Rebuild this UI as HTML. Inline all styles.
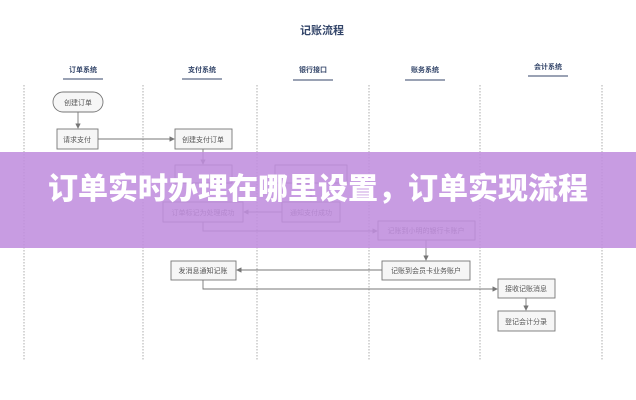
<!DOCTYPE html>
<html><head><meta charset="utf-8"><style>
html,body{margin:0;padding:0;background:#fff;width:636px;height:400px;overflow:hidden}
.w{position:relative;width:636px;height:400px}
svg{position:absolute;left:0;top:0}
.band{position:absolute;left:0;top:152px;width:636px;height:96px;background:rgba(192,142,222,0.88)}
.bt{position:absolute;left:0;top:165px;width:636px;text-align:center;color:#fff;font:900 30px "Noto Sans CJK SC",sans-serif;line-height:42px}
</style></head><body><div class="w">
<svg width="636" height="400" font-family="'Liberation Sans','Noto Sans CJK SC',sans-serif">
<defs><marker id="a" markerWidth="6" markerHeight="6" refX="5" refY="3" orient="auto"><path d="M0,0L6,3L0,6z" fill="#777"/></marker></defs>
<text x="322" y="34" font-size="11" font-weight="bold" fill="#34466a" text-anchor="middle">记账流程</text>
<g font-size="7" fill="#34466a" text-anchor="middle" font-weight="bold">
<text x="83" y="72">订单系统</text><text x="202" y="72">支付系统</text><text x="313" y="72">银行接口</text><text x="425" y="72">账务系统</text><text x="548" y="69">会计系统</text></g>
<g stroke="#34466a" stroke-width="1"><line x1="63" y1="79" x2="103" y2="79"/><line x1="182" y1="79" x2="222" y2="79"/><line x1="293" y1="80" x2="333" y2="80"/><line x1="405" y1="80" x2="445" y2="80"/><line x1="528" y1="76" x2="568" y2="76"/></g>
<g stroke="#999" stroke-dasharray="1.5,1.5" stroke-width="0.8">
<line x1="24" y1="85" x2="24" y2="360"/><line x1="143" y1="85" x2="143" y2="360"/><line x1="257" y1="85" x2="257" y2="360"/><line x1="369" y1="85" x2="369" y2="360"/><line x1="480" y1="85" x2="480" y2="360"/><line x1="602" y1="85" x2="602" y2="360"/></g>
<g fill="#f6f6f6" stroke="#777" stroke-width="0.9">
<rect x="53" y="92" width="50" height="20" rx="10"/>
<rect x="57" y="129" width="41" height="20"/>
<rect x="175" y="129" width="57" height="20"/>
<rect x="175" y="165" width="57" height="18"/>
<rect x="275" y="165" width="72" height="18"/>
<rect x="163" y="202" width="80" height="20"/>
<rect x="282" y="202" width="58" height="20"/>
<rect x="378" y="221" width="97" height="19"/>
<rect x="171" y="261" width="65" height="19"/>
<rect x="382" y="261" width="88" height="19"/>
<rect x="498" y="279" width="57" height="19"/>
<rect x="498" y="311" width="57" height="20"/>
</g>
<g font-size="7" fill="#555" text-anchor="middle">
<text x="78" y="105">创建订单</text><text x="77" y="142">请求支付</text><text x="203" y="142">创建支付订单</text>
<text x="203" y="215">订单标记为处理成功</text><text x="311" y="215">通知支付成功</text>
<text x="426" y="233">记账到小明的银行卡账户</text><text x="203" y="273">发消息通知记账</text>
<text x="426" y="273">记账到会员卡业务账户</text><text x="526" y="291">接收记账消息</text><text x="526" y="324">登记会计分录</text></g>
<g stroke="#777" stroke-width="0.9" fill="none" marker-end="url(#a)">
<line x1="78" y1="112" x2="78" y2="128"/>
<line x1="98" y1="139" x2="174" y2="139"/>
<line x1="203" y1="149" x2="203" y2="164"/>
<line x1="311" y1="183" x2="311" y2="201"/>
<line x1="282" y1="212" x2="244" y2="212"/>
<polyline points="203,222 203,231 377,231"/>
<line x1="426" y1="240" x2="426" y2="260"/>
<line x1="382" y1="270" x2="237" y2="270"/>
<polyline points="203,280 203,289 497,289"/>
<line x1="526" y1="298" x2="526" y2="310"/>
</g>
</svg>
<div class="band"></div>
<div class="bt">订单实时办理在哪里设置，订单实现流程</div>
</div></body></html>
